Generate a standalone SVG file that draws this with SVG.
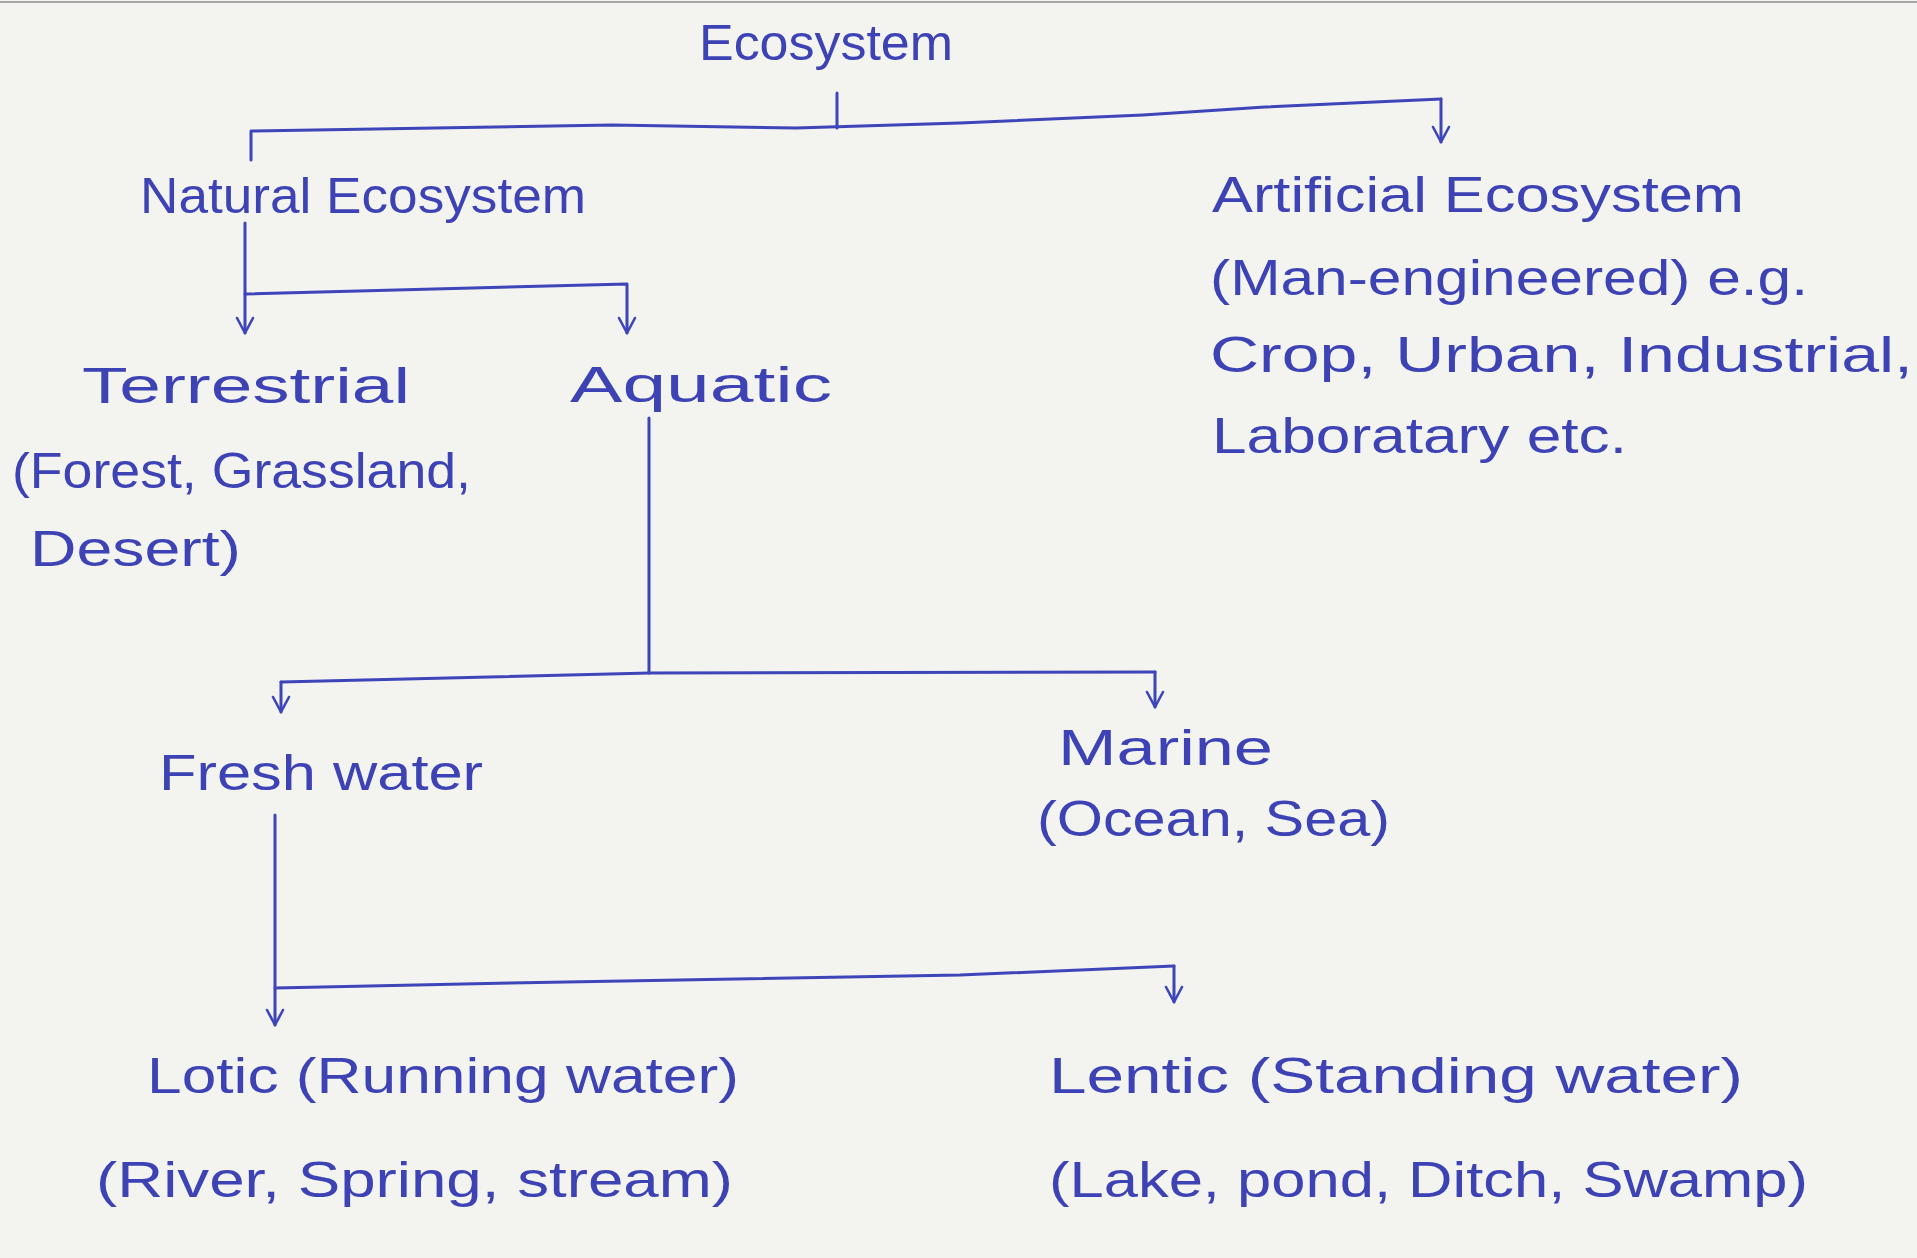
<svg xmlns="http://www.w3.org/2000/svg" width="1917" height="1258" viewBox="0 0 1917 1258">
<style>
.t{font-family:"Liberation Sans","DejaVu Sans",sans-serif;font-size:50px;fill:#3d43b4;}
.c{fill:none;stroke:#3d45b8;stroke-width:3;stroke-linecap:round;stroke-linejoin:round;}
</style>
<defs>
<marker id="arr" viewBox="-16 -10 18 20" refX="0" refY="0" markerWidth="18" markerHeight="20" orient="auto" markerUnits="userSpaceOnUse" overflow="visible">
<path d="M-15,-8 L0,0 L-15,8" fill="none" stroke="#3d45b8" stroke-width="2.6" stroke-linecap="round" stroke-linejoin="round"/>
</marker>
</defs>
<rect width="1917" height="1258" fill="#f3f3f0"/>
<line x1="0" y1="2" x2="1917" y2="2" stroke="#a8a8a8" stroke-width="2"/>

<g id="connectors">
<path class="c" d="M837,93 L837,128"/>
<path class="c" d="M251,160 L251,131 L612,125 L796,128 L960,123 L1143,115 L1265,107 L1441,99"/>
<path class="c" d="M1441,99 L1441,142" marker-end="url(#arr)"/>
<path class="c" d="M245,223 L245,333" marker-end="url(#arr)"/>
<path class="c" d="M245,294 L627,284 L627,333" marker-end="url(#arr)"/>
<path class="c" d="M649,418 L649,673"/>
<path class="c" d="M281,682 L650,673 L1155,672"/>
<path class="c" d="M281,682 L281,712" marker-end="url(#arr)"/>
<path class="c" d="M1155,672 L1155,707" marker-end="url(#arr)"/>
<path class="c" d="M275,815 L275,1025" marker-end="url(#arr)"/>
<path class="c" d="M275,988 L510,983 L960,975 L1174,966"/>
<path class="c" d="M1174,966 L1174,1002" marker-end="url(#arr)"/>
</g>

<g id="ecosystem"><text class="t" x="699" y="60" textLength="254" lengthAdjust="spacingAndGlyphs">Ecosystem</text></g>
<g id="natural"><text class="t" x="140" y="213" textLength="446" lengthAdjust="spacingAndGlyphs">Natural Ecosystem</text></g>
<g id="artificial">
<text class="t" x="1212" y="212" textLength="532" lengthAdjust="spacingAndGlyphs">Artificial Ecosystem</text>
<text class="t" x="1210" y="295" textLength="598" lengthAdjust="spacingAndGlyphs">(Man-engineered) e.g.</text>
<text class="t" x="1210" y="372" textLength="703" lengthAdjust="spacingAndGlyphs">Crop, Urban, Industrial,</text>
<text class="t" x="1212" y="453" textLength="415" lengthAdjust="spacingAndGlyphs">Laboratary etc.</text>
</g>
<g id="terrestrial">
<text class="t" x="82" y="403" textLength="328" lengthAdjust="spacingAndGlyphs">Terrestrial</text>
<text class="t" x="12" y="488" textLength="459" lengthAdjust="spacingAndGlyphs">(Forest, Grassland,</text>
<text class="t" x="30" y="566" textLength="211" lengthAdjust="spacingAndGlyphs">Desert)</text>
</g>
<g id="aquatic"><text class="t" x="570" y="402" textLength="262" lengthAdjust="spacingAndGlyphs">Aquatic</text></g>
<g id="freshwater"><text class="t" x="159" y="790" textLength="324" lengthAdjust="spacingAndGlyphs">Fresh water</text></g>
<g id="marine">
<text class="t" x="1058" y="765" textLength="215" lengthAdjust="spacingAndGlyphs">Marine</text>
<text class="t" x="1037" y="836" textLength="353" lengthAdjust="spacingAndGlyphs">(Ocean, Sea)</text>
</g>
<g id="lotic">
<text class="t" x="147" y="1093" textLength="592" lengthAdjust="spacingAndGlyphs">Lotic (Running water)</text>
<text class="t" x="96" y="1197" textLength="637" lengthAdjust="spacingAndGlyphs">(River, Spring, stream)</text>
</g>
<g id="lentic">
<text class="t" x="1049" y="1093" textLength="694" lengthAdjust="spacingAndGlyphs">Lentic (Standing water)</text>
<text class="t" x="1049" y="1197" textLength="759" lengthAdjust="spacingAndGlyphs">(Lake, pond, Ditch, Swamp)</text>
</g>
</svg>
